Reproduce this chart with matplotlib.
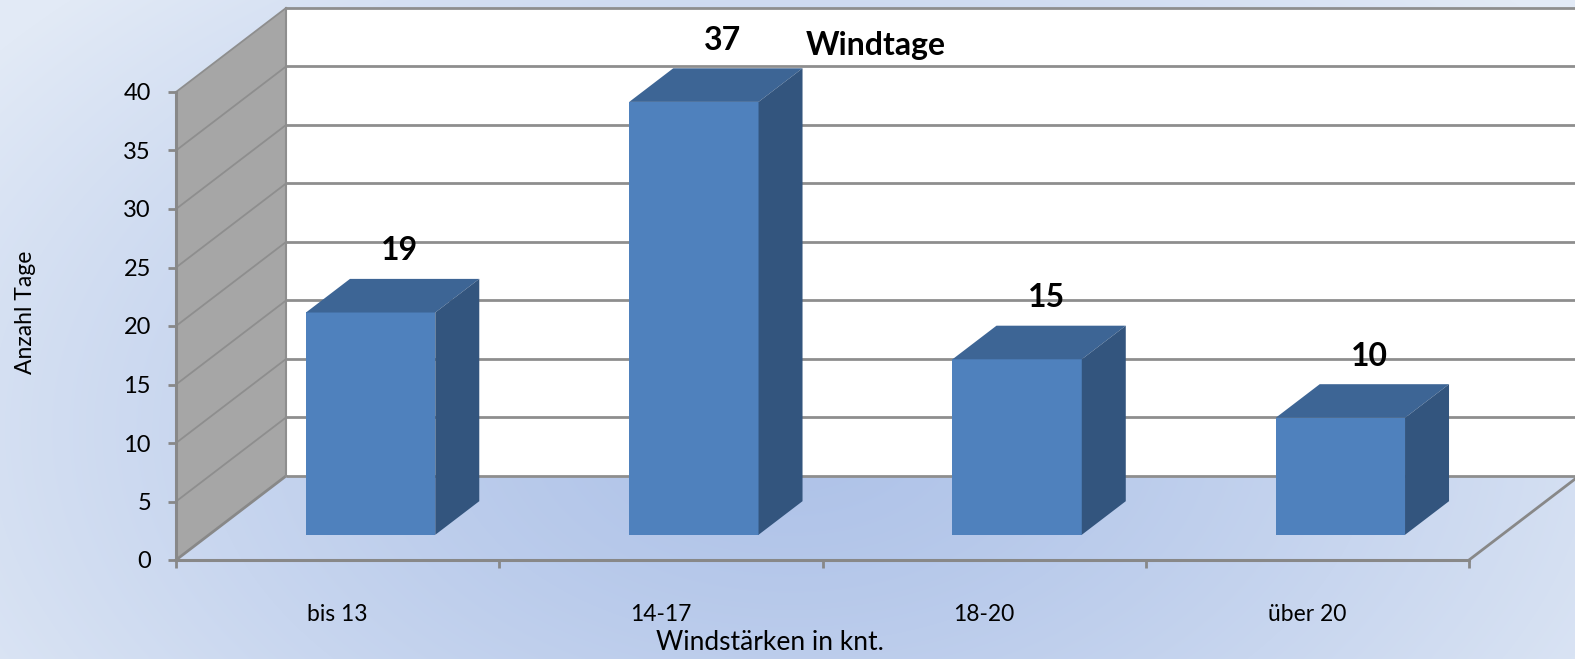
import numpy as np
import matplotlib
matplotlib.use("Agg")
import matplotlib.pyplot as plt
from matplotlib.patches import Polygon

plt.rcParams['font.family'] = ['Lato', 'DejaVu Sans']

# ---- data ----
categories = ["bis 13", "14-17", "18-20", "über 20"]
values = [19, 37, 15, 10]
y_ticks = [0, 5, 10, 15, 20, 25, 30, 35, 40]
title = "Windtage"
y_label = "Anzahl Tage"
x_label = "Windstärken in knt."

# ---- style / geometry ----
W, H = 1575, 659
FRONT = "#4F81BD"
TOP = "#3D6595"
SIDE = "#33557E"
WALL = "#A6A6A6"
GRID = "#8E8E8E"
AX = "#888888"
DX = 0.3403   # depth offset in category units
DY = 7.18     # depth offset in value units
D0, D1 = 0.3, 0.7
BW = 0.4

fig = plt.figure(figsize=(W / 100, H / 100), dpi=100)

# background gradient
bg = fig.add_axes([0, 0, 1, 1], zorder=-10)
yy, xx = np.mgrid[0:H, 0:W]
r = np.sqrt(((xx - 790) / 1000.0) ** 2 + ((yy - 430) / 620.0) ** 2)
r = np.clip(r, 0, 1) ** 1.3
c0 = np.array([174, 194, 232]) / 255.0
c1 = np.array([226, 234, 246]) / 255.0
img = c0[None, None, :] * (1 - r[..., None]) + c1[None, None, :] * r[..., None]
bg.imshow(img, aspect='auto', extent=[0, 1, 0, 1], origin='upper')
bg.axis('off')

ax = fig.add_axes([176 / W, 99 / H, 1293 / W, 468 / H])
ax.set_xlim(0, 4)
ax.set_ylim(0, 40)
ax.patch.set_alpha(0)
n = len(categories)
ymax = y_ticks[-1]
xr_end = n + DX + 0.6

# back wall
ax.add_patch(Polygon([(DX, DY), (xr_end, DY), (xr_end, ymax + DY), (DX, ymax + DY)],
                     closed=True, facecolor="white", edgecolor="none", zorder=0, clip_on=False))
# left wall
ax.add_patch(Polygon([(0, 0), (0, ymax), (DX, ymax + DY), (DX, DY)],
                     closed=True, facecolor=WALL, edgecolor="none", zorder=0, clip_on=False))
# gridlines
for v in y_ticks:
    ax.plot([DX, xr_end], [v + DY, v + DY], color=GRID, lw=2, zorder=1, clip_on=False,
            solid_capstyle='butt')
    if v > 0:
        ax.plot([0, DX], [v, v + DY], color=GRID, lw=1.3, zorder=1, clip_on=False)
# floor edges
ax.plot([0, DX], [0, DY], color=AX, lw=2, zorder=1, clip_on=False)
ax.plot([n, n + DX], [0, DY], color=AX, lw=2, zorder=1, clip_on=False)
ax.plot([DX, DX], [DY, ymax + DY], color=GRID, lw=1.5, zorder=1, clip_on=False)

# bars
xs = np.arange(n) + 0.5 + D0 * DX
base = D0 * DY
depx = (D1 - D0) * DX
depy = (D1 - D0) * DY
ax.bar(xs, values, width=BW, bottom=base, color=FRONT, zorder=3, clip_on=False)
for x, v in zip(xs, values):
    xl, xr = x - BW / 2, x + BW / 2
    top = base + v
    ax.add_patch(Polygon([(xl, top), (xr, top), (xr + depx, top + depy), (xl + depx, top + depy)],
                         closed=True, facecolor=TOP, edgecolor="none", zorder=3, clip_on=False))
    ax.add_patch(Polygon([(xr, base), (xr, top), (xr + depx, top + depy), (xr + depx, base + depy)],
                         closed=True, facecolor=SIDE, edgecolor="none", zorder=3, clip_on=False))
    ax.text(x + 0.09, top + depy + 2.4, str(v), ha='center', va='center',
            fontsize=23, fontweight='bold', color='black', zorder=4, clip_on=False)

# axes
for s in ['top', 'right']:
    ax.spines[s].set_visible(False)
for s in ['left', 'bottom']:
    ax.spines[s].set_color(AX)
    ax.spines[s].set_linewidth(2.2)
    ax.spines[s].set_zorder(2)
ax.set_yticks(y_ticks)
ax.set_yticklabels([str(t) for t in y_ticks])
ax.tick_params(axis='y', length=6, width=2, color=AX, pad=12, labelsize=17)
ax.set_xticks(np.arange(n + 1))
ax.set_xticklabels([])
ax.set_xticks(np.arange(n) + 0.5, minor=True)
ax.set_xticklabels(categories, minor=True)
ax.tick_params(axis='x', which='major', length=6, width=2, color=AX)
ax.tick_params(axis='x', which='minor', length=0, pad=32, labelsize=16.5)

fig.text(876 / W, 1 - 45 / H, title, ha='center', va='center', fontsize=23, fontweight='bold')
fig.text(25 / W, 1 - 312 / H, y_label, ha='center', va='center', rotation=90, fontsize=16.5)
fig.text(770 / W, 1 - 642 / H, x_label, ha='center', va='center', fontsize=19)

fig.savefig("out.png", dpi=100)
